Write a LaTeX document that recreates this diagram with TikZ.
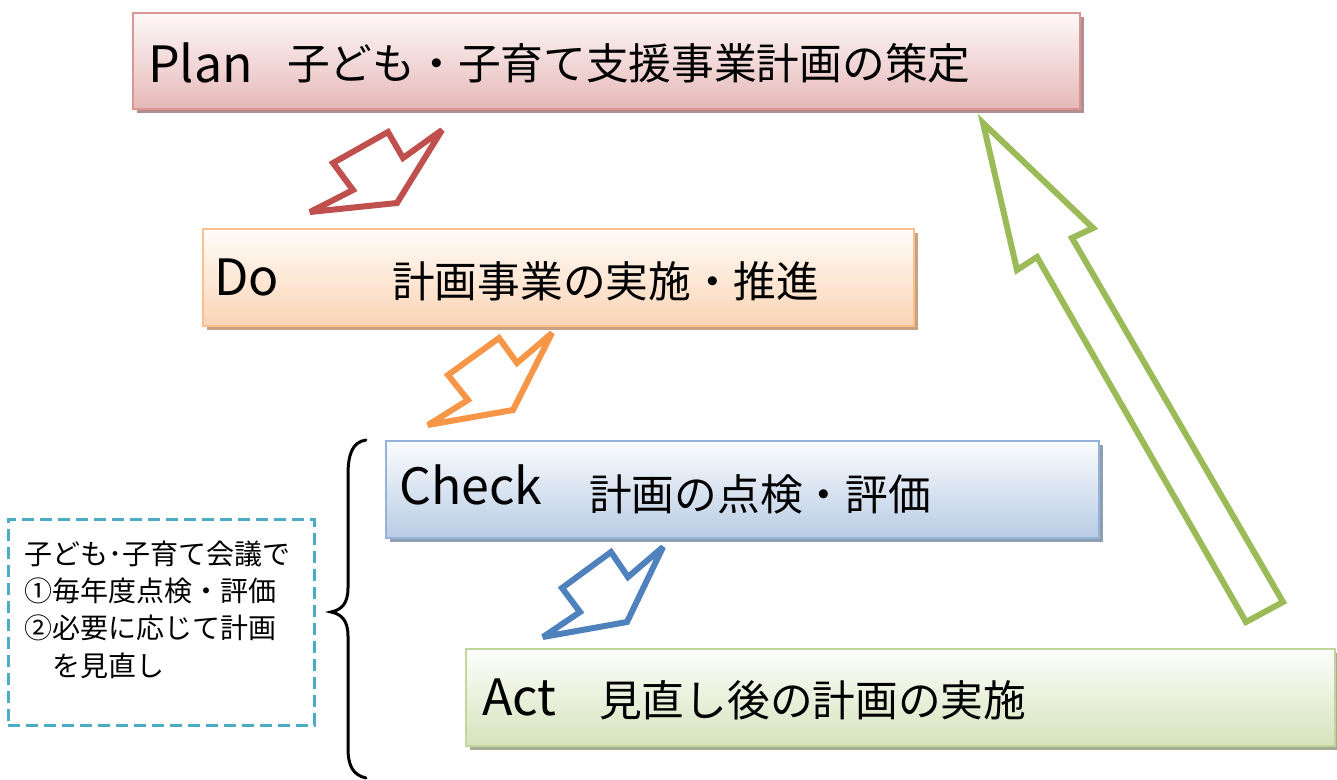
\documentclass[tikz,border=0pt]{standalone}
\usepackage{fontspec}
\setmainfont{Noto Sans CJK JP}
\usetikzlibrary{shadows}
\definecolor{planborder}{HTML}{D99694}
\definecolor{plantop}{HTML}{FEF8F8}
\definecolor{planmid}{HTML}{F2D8D8}
\definecolor{planbot}{HTML}{E6B9B8}
\definecolor{plansh}{HTML}{B48E8E}
\definecolor{doborder}{HTML}{FAC08F}
\definecolor{dotop}{HTML}{FFFCF9}
\definecolor{domid}{HTML}{FDE8D8}
\definecolor{dobot}{HTML}{FBD4B4}
\definecolor{dosh}{HTML}{C9A282}
\definecolor{chkborder}{HTML}{95B3D7}
\definecolor{chktop}{HTML}{FBFCFE}
\definecolor{chkmid}{HTML}{DCE6F2}
\definecolor{chkbot}{HTML}{B8CCE4}
\definecolor{chksh}{HTML}{8E9EB3}
\definecolor{actborder}{HTML}{C2D69B}
\definecolor{acttop}{HTML}{FDFEFB}
\definecolor{actmid}{HTML}{EAF1DD}
\definecolor{actbot}{HTML}{D6E3BC}
\definecolor{actsh}{HTML}{A3AD93}
\definecolor{arrred}{HTML}{C0504D}
\definecolor{arrorange}{HTML}{F79646}
\definecolor{arrblue}{HTML}{4F81BD}
\definecolor{arrgreen}{HTML}{9BBB59}
\definecolor{noteteal}{HTML}{4BACC6}
\begin{document}
\begin{tikzpicture}[x=1pt,y=-1pt,
  stagebox/.style={draw=#1border, line width=2pt, top color=#1top, middle color=#1mid,
    bottom color=#1bot, anchor=north west, inner sep=0pt,
    drop shadow={shadow xshift=4pt, shadow yshift=-4pt, fill=#1sh, opacity=1}},
  lat/.style={anchor=base west, inner sep=0pt, font=\fontsize{50}{50}\selectfont},
  jp/.style={anchor=base west, inner sep=0pt, font=\fontsize{42.7}{42.7}\selectfont},
  notetext/.style={anchor=base west, inner sep=0pt, font=\fontsize{28}{28}\selectfont},
  bentarrow/.style={draw=#1, line width=6pt, line join=miter, miter limit=4, fill=white},
]
\useasboundingbox (0,0) rectangle (1337,779);

% stage boxes
\node[stagebox=plan, minimum width=947pt, minimum height=96pt] (plan) at (132,12) {};
\node[stagebox=do, minimum width=711pt, minimum height=97pt] (do) at (202,228) {};
\node[stagebox=chk, minimum width=713pt, minimum height=97pt] (check) at (385,440) {};
\node[stagebox=act, minimum width=869pt, minimum height=97pt] (act) at (465,648) {};

% stage texts
\node[lat] (planL) at (148,82) {Plan};
\node[jp] (planJ) at (287,79) {子ども・子育て支援事業計画の策定};
\node[lat] (doL) at (214,295) {Do};
\node[jp] (doJ) at (392,297) {計画事業の実施・推進};
\node[lat] (checkL) at (399,504) {Check};
\node[jp] (checkJ) at (589,510) {計画の点検・評価};
\node[lat] (actL) at (482,715) {Act};
\node[jp] (actJ) at (599,716) {見直し後の計画の実施};

% bent arrows
\draw[bentarrow=arrred] (442,130) -- (403,158) -- (388,132) -- (333,163) -- (353,190) -- (310,212) -- (397,203) -- cycle;
\draw[bentarrow=arrorange] (552,333) -- (517,363) -- (499,338) -- (448,375) -- (468,400) -- (428,425) -- (513,410) -- cycle;
\draw[bentarrow=arrblue] (663,547) -- (628,577) -- (611,552) -- (562,588) -- (580,612) -- (543,637) -- (627,622) -- cycle;

% large green return arrow
\draw[draw=arrgreen, line width=6pt, line join=miter, miter limit=4]
  (983,123) -- (1093,228) -- (1072,238) -- (1283,602) -- (1246,622) -- (1037,257) -- (1017,270) -- cycle;

% note box
\node[draw=noteteal, line width=2.5pt, dash pattern=on 12pt off 6pt, minimum width=306pt,
  minimum height=206pt, anchor=north west, inner sep=0pt] (note) at (7,518) {};
\node[notetext] (n1) at (24,564) {子ども･子育て会議で};
\node[notetext] (n2) at (24,601) {①毎年度点検・評価};
\node[notetext] (n3) at (24,638) {②必要に応じて計画};
\node[notetext] (n4) at (24,676) {　を見直し};

% brace
\draw[line width=3pt, line cap=round] (366,440) .. controls (352,442) and (348,455) .. (348,475)
  -- (348,588) .. controls (348,604) and (341,610) .. (331,612)
  .. controls (341,614) and (348,620) .. (348,636)
  -- (348,748) .. controls (348,766) and (353,775) .. (366,778);
\end{tikzpicture}
\end{document}
